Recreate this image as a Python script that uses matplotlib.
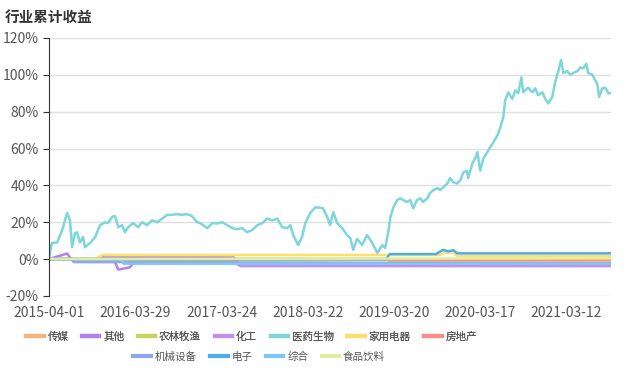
import matplotlib.pyplot as plt
from matplotlib.lines import Line2D

plt.rcParams['font.family'] = ['Noto Sans CJK SC', 'DejaVu Sans']

# x axis is a trading-day index (category axis); labels every 243 days
tick_days = [0, 243, 486, 729, 972, 1215, 1458]
tick_labels = ["2015-04-01", "2016-03-29", "2017-03-24", "2018-03-22",
               "2019-03-20", "2020-03-17", "2021-03-12"]
n_days = 1584

# 医药生物 (cumulative return, %)
med_day = [0, 8, 23, 37, 51, 59, 65, 73, 79, 87, 96, 101, 116, 130, 144, 158, 166,
           178, 186, 195, 206, 214, 223, 237, 251, 262, 276, 290, 305, 319, 333,
           347, 361, 375, 389, 403, 417, 426, 434, 446, 460, 474, 488, 502, 516,
           530, 544, 558, 572, 587, 601, 615, 629, 643, 657, 671, 680, 688, 702,
           713, 722, 736, 750, 758, 772, 784, 792, 801, 812, 826, 840, 849, 857,
           868, 882, 896, 911, 925, 939, 947, 956, 962, 970, 981, 990, 998, 1009,
           1018, 1026, 1037, 1046, 1054, 1066, 1074, 1083, 1094, 1102, 1111, 1122,
           1130, 1139, 1150, 1159, 1167, 1178, 1181, 1193, 1201, 1207, 1215, 1224,
           1235, 1243, 1252, 1263, 1271, 1280, 1285, 1294, 1305, 1314, 1322, 1331,
           1336, 1350, 1362, 1370, 1378, 1390, 1398, 1407, 1418, 1426, 1435, 1443,
           1449, 1460, 1469, 1477, 1488, 1497, 1505, 1514, 1519, 1531, 1539, 1545,
           1550, 1559, 1567, 1576, 1584]
med_val = [0.5, 8.7, 9, 15.7, 25, 21, 6.5, 14, 14.5, 9, 12, 6.5, 8.7, 12, 18.4, 20,
           19.5, 23, 23.3, 17.3, 18.4, 14.6, 17.3, 19.5, 17.3, 20, 18.4, 21, 20, 22,
           24, 24, 24.4, 24, 24.4, 23.3, 20, 19.5, 18.4, 16.8, 19.5, 19.3, 20, 18.4,
           16.8, 16.2, 16.8, 14.6, 15.7, 18.4, 19.5, 22, 21, 22, 17.3, 16.8, 18.4, 13,
           7.6, 12, 19.5, 25, 28, 28, 27.6, 22.8, 18.4, 25.5, 19.5, 16.8, 13, 11.4, 5,
           11, 7.6, 13, 8.7, 3.3, 7.6, 6, 15, 22.8, 28, 32, 33, 32, 31, 32, 27.6, 32,
           33, 31, 33, 36, 37.4, 38.5, 37.5, 39, 41, 44, 41.7, 41, 42.8, 47, 48, 44,
           52, 54.7, 58, 48, 54.7, 58, 60.7, 63.4, 67, 71, 77, 86, 90.5, 87, 91.6, 90,
           98.6, 90.5, 93, 90.5, 92.7, 89, 90.5, 87, 84.5, 88, 96, 102, 108, 101, 102,
           100, 101, 102, 104, 103.5, 106, 101, 100, 97, 95, 88, 92.7, 93, 90, 90]

# the other industries stay close to zero
other_day = [0, 51, 62, 70, 186, 195, 228, 240, 520, 540, 1584]
other_val = [0, 3, 0, -1.5, -1.5, -5.7, -4.5, -1.5, -1.5, -3.8, -3.8]
chem_day = [0, 140, 150, 520, 540, 1584]
chem_val = [0, 0, 1.0, 1.0, -3.6, -3.6]
media_day = [0, 950, 960, 1584]
media_val = [0, 0, -1.1, -1.1]
agri_day = [0, 1584]
agri_val = [0.2, 0.2]
appl_day = [0, 130, 150, 1100, 1115, 1140, 1150, 1584]
appl_val = [0, 0, 2.2, 2.2, 3.5, 3.5, 1.6, 1.6]
estate_day = [0, 950, 960, 1584]
estate_val = [0, 0, -0.3, -0.3]
mach_day = [0, 65, 70, 1584]
mach_val = [0, 0, -1.6, -2.3]
elec_day = [0, 950, 960, 1090, 1110, 1125, 1140, 1150, 1584]
elec_val = [0, 0, 2.7, 2.7, 5.0, 4.2, 4.8, 3.1, 3.1]
misc_day = [0, 200, 210, 1584]
misc_val = [0, 0, -2.5, -2.5]
food_day = [0, 1584]
food_val = [0, 0.4]

names = ["传媒", "其他", "农林牧渔", "化工", "医药生物", "家用电器", "房地产",
         "机械设备", "电子", "综合", "食品饮料"]
colors = ["#ffb27a", "#b07ff0", "#c9d35a", "#c58ee8", "#7dd6da", "#ffdf6b",
          "#ff8c84", "#8da6f0", "#4aaee8", "#7cc8f8", "#dcf0a0"]
series = [(media_day, media_val), (other_day, other_val), (agri_day, agri_val),
          (chem_day, chem_val), (med_day, med_val), (appl_day, appl_val),
          (estate_day, estate_val), (mach_day, mach_val), (elec_day, elec_val),
          (misc_day, misc_val), (food_day, food_val)]

fig = plt.figure(figsize=(6.4, 3.76), dpi=100)
ax = fig.add_axes([0.0766, 0.213, 0.8784, 0.686])

ax.axhline(0, color="#333333", lw=1, zorder=1)
for (d, v), c in zip(series, colors):
    ax.plot(d, v, color=c, lw=1.8, zorder=2)

ax.set_xlim(0, n_days)
ax.set_ylim(-20, 120)
ax.set_yticks(range(-20, 121, 20))
ax.set_yticklabels([f"{t}%" for t in range(-20, 121, 20)])
ax.set_xticks(tick_days)
ax.set_xticklabels(tick_labels)
ax.grid(axis="y", color="#e0e0e0", lw=1)
ax.set_axisbelow(True)
for s in ["top", "right", "bottom"]:
    ax.spines[s].set_visible(False)
ax.spines["left"].set_color("#333333")
ax.tick_params(axis="y", colors="#333333", labelcolor="#555555", labelsize=10, length=4)
ax.tick_params(axis="x", length=0, labelcolor="#555555", labelsize=10, pad=7)

fig.text(0.008, 0.955, "行业累计收益", fontsize=10.5, fontweight="bold", color="#333333",
         va="center")

handles = [Line2D([], [], color=c, lw=3) for c in colors]
kw = dict(loc="center", frameon=False, fontsize=7.6, handlelength=1.65,
          columnspacing=1.3, handletextpad=0.35, labelcolor="#555555")
leg1 = fig.legend(handles[:7], names[:7], bbox_to_anchor=(0.393, 0.104), ncol=7, **kw)
fig.legend(handles[7:], names[7:], bbox_to_anchor=(0.405, 0.051), ncol=4, **kw)
fig.add_artist(leg1)

fig.savefig("out.png", dpi=100)
